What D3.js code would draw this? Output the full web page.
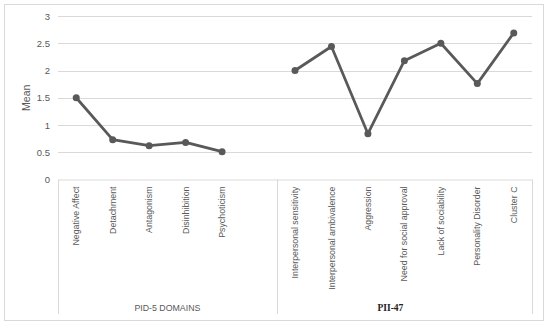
<!DOCTYPE html>
<html>
<head>
<meta charset="utf-8">
<script src="https://cdn.jsdelivr.net/npm/d3@7"></script>
<style>
  body { margin: 0; background: #fff; }
  text { font-family: "Liberation Sans", Arial, sans-serif; }
</style>
</head>
<body>
<div id="chart"></div>
<script>
//chart data
var pidDomains = ["Negative Affect", "Detachment", "Antagonism", "Disinhibition", "Psychoticism"];
var pidValues = [1.5, 0.73, 0.62, 0.68, 0.51];
var piiScales = ["Interpersonal sensitivity", "Interpersonal ambivalence", "Aggression",
  "Need for social approval", "Lack of sociability", "Personality Disorder", "Cluster C"];
var piiValues = [2.0, 2.44, 0.84, 2.18, 2.5, 1.76, 2.69];
var yTicks = [0, 0.5, 1, 1.5, 2, 2.5, 3];
var groupNames = ["PID-5 DOMAINS", "PII-47"];

//define SVG size
var svgWidth = 550;
var svgHeight = 327;

var margin = { top: 16, right: 18, bottom: 148, left: 58 };
var width = 532 - margin.left;
var height = 179.5 - margin.top;

var svg = d3.select("#chart")
  .append("svg")
  .attr("width", svgWidth)
  .attr("height", svgHeight);

//outer frame
svg.append("rect")
  .attr("x", 4.5).attr("y", 4.5)
  .attr("width", 539).attr("height", 316)
  .attr("fill", "none")
  .attr("stroke", "#d9d9d9");

var chartGroup = svg.append("g")
  .attr("transform", `translate(${margin.left}, ${margin.top})`);

//one blank slot closes the first group
var gapKey = "__gap__";
var categories = pidDomains.concat([gapKey], piiScales);

var xScale = d3.scaleBand()
  .domain(categories)
  .range([0, width]);

var yScale = d3.scaleLinear()
  .domain([0, 3])
  .range([height, 0]);

//gridlines
chartGroup.selectAll("line.grid")
  .data(yTicks.slice(1))
  .enter()
  .append("line")
  .attr("x1", 0)
  .attr("x2", width)
  .attr("y1", d => Math.round(yScale(d)) + 0.5)
  .attr("y2", d => Math.round(yScale(d)) + 0.5)
  .attr("stroke", "#d9d9d9")
  .attr("stroke-width", 1);

//y axis labels
var leftAxis = d3.axisLeft(yScale)
  .tickValues(yTicks)
  .tickSize(0)
  .tickPadding(8)
  .tickFormat(d3.format("~g"));

var yAxis = chartGroup.append("g").call(leftAxis);
yAxis.select(".domain").remove();
yAxis.selectAll("text")
  .attr("fill", "#595959")
  .attr("font-size", 9.5)
  .style("font-family", "'Liberation Sans', Arial, sans-serif");

chartGroup.append("text")
  .attr("transform", "rotate(-90)")
  .attr("x", -(yScale(1.5)))
  .attr("y", 26 - margin.left)
  .attr("dy", "0.35em")
  .attr("text-anchor", "middle")
  .attr("font-size", 10.5)
  .attr("fill", "#595959")
  .text("Mean");

//category axis
var bottomAxis = d3.axisBottom(xScale)
  .tickSize(0)
  .tickFormat(d => d === gapKey ? "" : d);

var xAxis = chartGroup.append("g")
  .attr("transform", `translate(0, ${height})`)
  .call(bottomAxis);

xAxis.select(".domain")
  .attr("stroke", "#d9d9d9");

xAxis.selectAll("text")
  .attr("transform", "rotate(-90)")
  .attr("x", -7)
  .attr("y", 0)
  .attr("dy", "0.35em")
  .attr("text-anchor", "end")
  .attr("font-size", 8.8)
  .attr("fill", "#595959")
  .style("font-family", "'Liberation Sans', Arial, sans-serif");

//group dividers and labels
var groupEdges = [0, xScale(piiScales[0]), width];
var axisBottomY = 314 - margin.top;

chartGroup.selectAll("line.divider")
  .data(groupEdges)
  .enter()
  .append("line")
  .attr("x1", d => Math.round(d) + 0.5)
  .attr("x2", d => Math.round(d) + 0.5)
  .attr("y1", height)
  .attr("y2", axisBottomY)
  .attr("stroke", "#d9d9d9");

chartGroup.append("text")
  .attr("x", (groupEdges[0] + groupEdges[1]) / 2)
  .attr("y", 308 - margin.top)
  .attr("dy", "0.35em")
  .attr("text-anchor", "middle")
  .attr("font-size", 8.8)
  .attr("fill", "#595959")
  .text(groupNames[0]);

chartGroup.append("text")
  .attr("x", (groupEdges[1] + groupEdges[2]) / 2 - 14)
  .attr("y", 308 - margin.top)
  .attr("dy", "0.35em")
  .attr("text-anchor", "middle")
  .attr("font-size", 9.5)
  .attr("font-weight", "bold")
  .attr("fill", "#222")
  .style("font-family", "'Liberation Serif', 'Times New Roman', serif")
  .text(groupNames[1]);

//series
var series = [
  pidDomains.map((c, i) => ({ cat: c, value: pidValues[i] })),
  piiScales.map((c, i) => ({ cat: c, value: piiValues[i] }))
];

var line = d3.line()
  .x(d => xScale(d.cat) + xScale.bandwidth() / 2)
  .y(d => yScale(d.value));

chartGroup.selectAll("path.series")
  .data(series)
  .enter()
  .append("path")
  .attr("d", line)
  .attr("fill", "none")
  .attr("stroke", "#595959")
  .attr("stroke-width", 2.75)
  .attr("stroke-linejoin", "round");

chartGroup.selectAll("circle")
  .data(series.flat())
  .enter()
  .append("circle")
  .attr("cx", d => xScale(d.cat) + xScale.bandwidth() / 2)
  .attr("cy", d => yScale(d.value))
  .attr("r", 3.5)
  .attr("fill", "#595959");
</script>
</body>
</html>
